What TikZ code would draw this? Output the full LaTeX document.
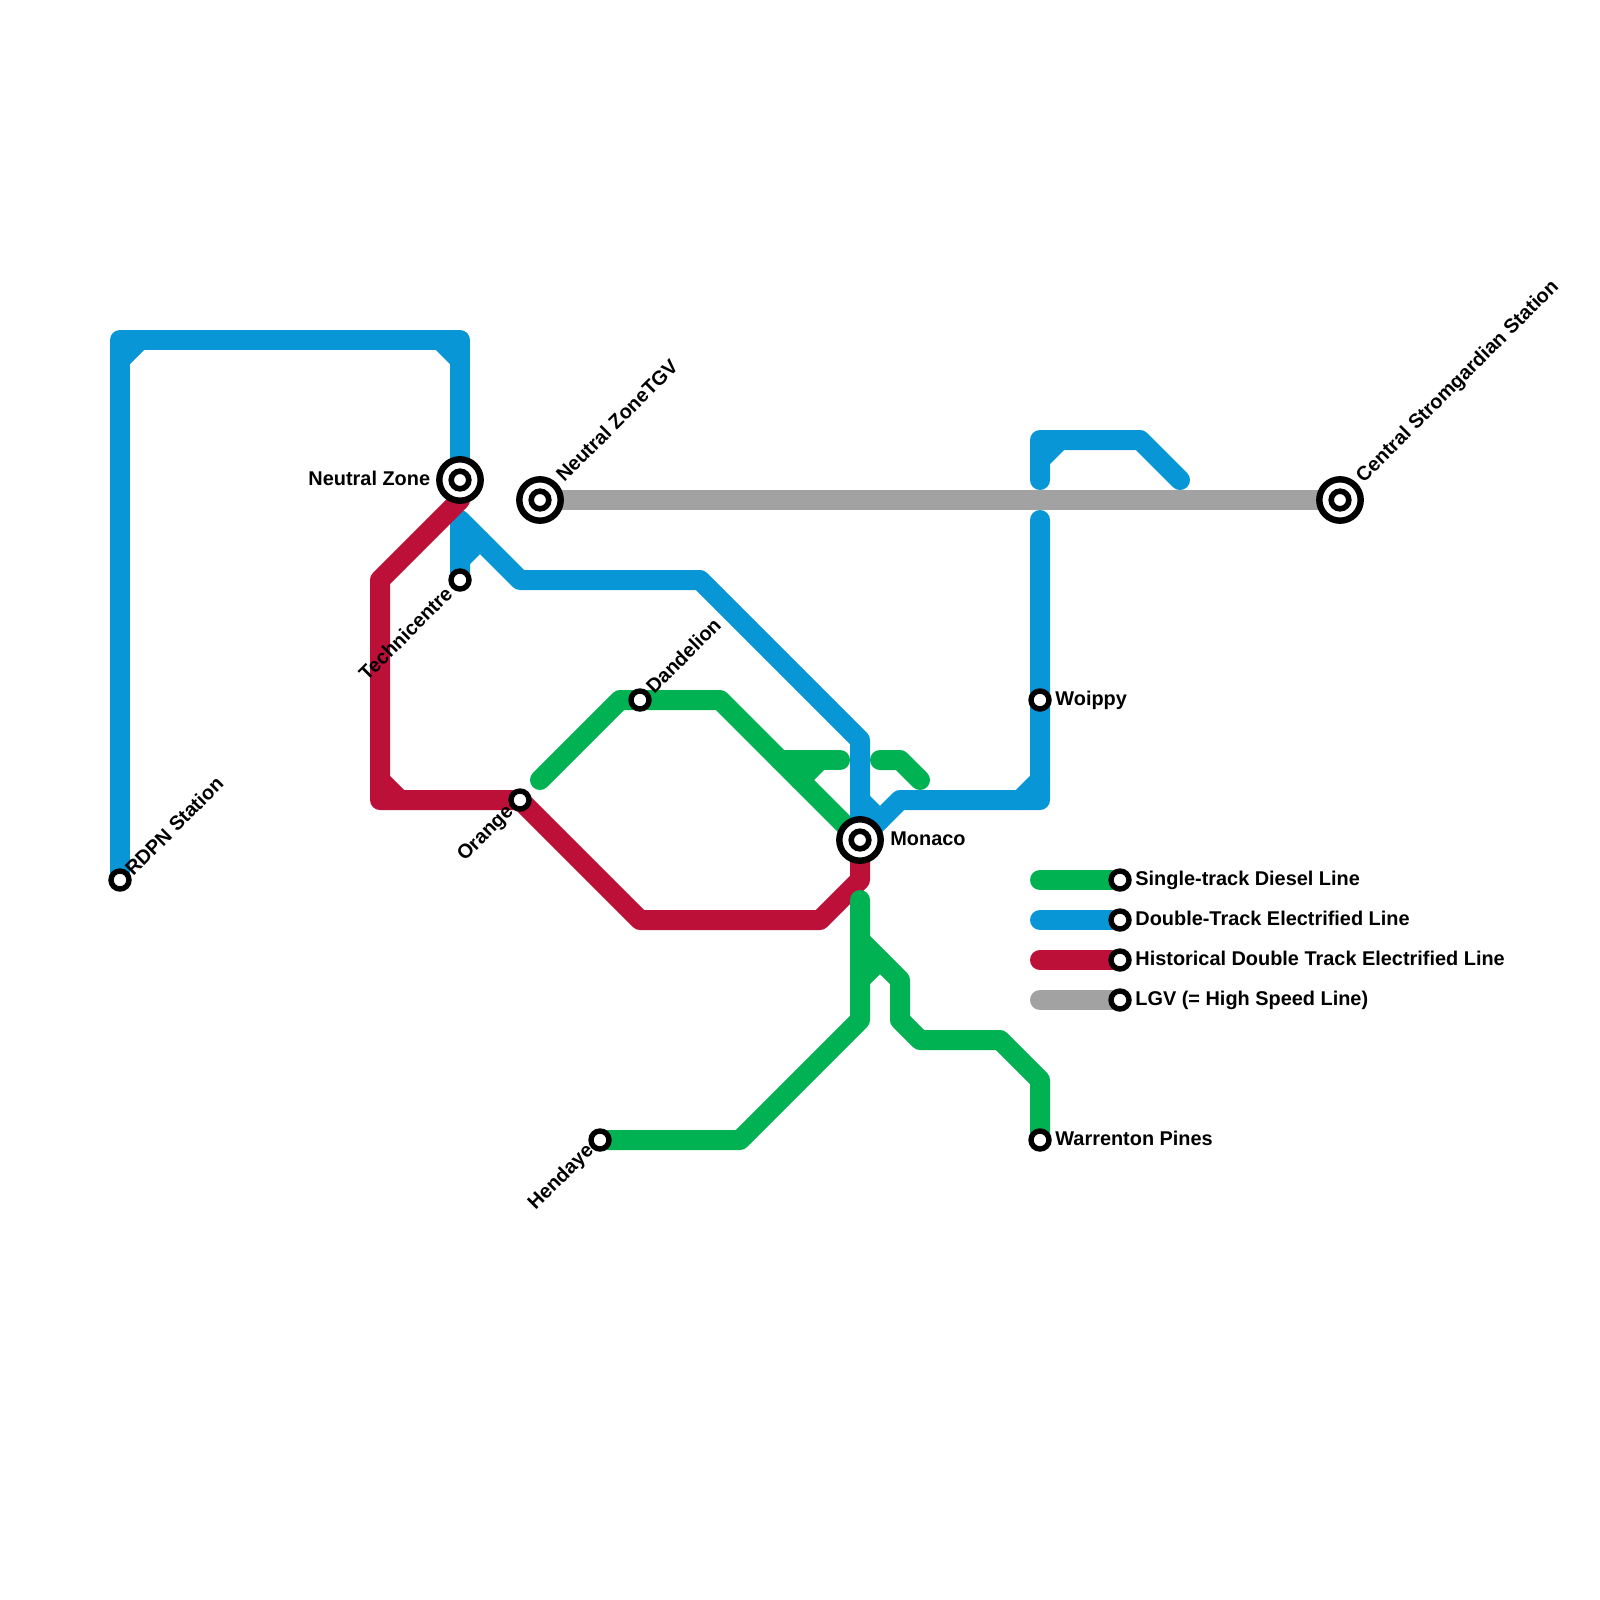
\documentclass[tikz,border=0pt]{standalone}
\usepackage{fontspec}
\setmainfont{Liberation Sans}
\definecolor{cgreen}{HTML}{00B251}
\definecolor{cblue}{HTML}{0896D7}
\definecolor{cred}{HTML}{BD1038}
\definecolor{cgray}{HTML}{A2A2A2}
\tikzset{
  railway/.style={line width=10pt,line cap=round,line join=round},
  smallstop/.style={circle,draw=black,fill=white,line width=2.7pt,minimum size=9pt,inner sep=0pt},
  bigstop/.style={circle,draw=black,fill=white,line width=3.2pt,minimum size=20.7pt,inner sep=0pt},
  bigcore/.style={circle,draw=black,fill=white,line width=2.8pt,minimum size=8.8pt,inner sep=0pt},
  lab/.style={font=\bfseries\fontsize{9.95pt}{12pt}\selectfont,text=black,inner sep=0pt},
  ne/.style={lab,rotate=45,anchor=west},
  sw/.style={lab,rotate=45,anchor=east},
  hr/.style={lab,anchor=base west},
  hl/.style={lab,anchor=base east},
}
\begin{document}
\begin{tikzpicture}[x=0.5pt,y=-0.5pt]
\useasboundingbox (0,0) rectangle (1600,1600);
% stations
\coordinate (rdpn) at (120,880);
\coordinate (nz) at (460,480);
\coordinate (tgv) at (540,500);
\coordinate (tech) at (460,580);
\coordinate (orange) at (520,800);
\coordinate (dand) at (640,700);
\coordinate (mon) at (860,840);
\coordinate (woip) at (1040,700);
\coordinate (hend) at (600,1140);
\coordinate (warr) at (1040,1140);
\coordinate (csta) at (1340,500);
\coordinate (lg) at (1120,880);
\coordinate (lb) at (1120,920);
\coordinate (lr) at (1120,960);
\coordinate (lw) at (1120,1000);
% upper green
\draw[railway,cgreen] (540,780) -- (620,700) -- (dand) -- (720,700) -- (mon);
\draw[railway,cgreen] (780,760) -- (840,760);
\draw[railway,cgreen] (800,780) -- (820,760);
\draw[railway,cgreen] (880,760) -- (900,760) -- (920,780);
% blue
\draw[railway,cblue] (rdpn) -- (120,340) -- (460,340) -- (nz);
\draw[railway,cblue] (120,360) -- (140,340);
\draw[railway,cblue] (440,340) -- (460,360);
\draw[railway,cblue] (tech) -- (460,520) -- (520,580) -- (700,580) -- (860,740) -- (mon);
\draw[railway,cblue] (460,560) -- (480,540);
\draw[railway,cblue] (860,800) -- (880,820);
\draw[railway,cblue] (mon) -- (900,800) -- (1040,800) -- (woip) -- (1040,520);
\draw[railway,cblue] (1020,800) -- (1040,780);
\draw[railway,cblue] (1040,480) -- (1040,440) -- (1140,440) -- (1180,480);
\draw[railway,cblue] (1040,460) -- (1060,440);
% red
\draw[railway,cred] (nz) ++(0,20) -- (380,580) -- (380,800) -- (orange) -- (640,920) -- (820,920) -- (860,880) -- (mon);
\draw[railway,cred] (380,780) -- (400,800);
% lower green
\draw[railway,cgreen] (860,900) -- (860,1020) -- (740,1140) -- (hend);
\draw[railway,cgreen] (860,940) -- (900,980) -- (900,1020) -- (920,1040) -- (1000,1040) -- (1040,1080) -- (warr);
\draw[railway,cgreen] (860,980) -- (880,960);
% gray
\draw[railway,cgray,line cap=butt] (tgv) -- (csta);
% legend lines
\coordinate (lgs) at (1040,880);
\coordinate (lbs) at (1040,920);
\coordinate (lrs) at (1040,960);
\coordinate (lws) at (1040,1000);
\draw[railway,cgreen] (lgs) -- (lg);
\draw[railway,cblue] (lbs) -- (lb);
\draw[railway,cred] (lrs) -- (lr);
\draw[railway,cgray] (lws) -- (lw);
% station markers
\foreach \p/\n in {rdpn/a,tech/b,orange/c,dand/d,woip/e,hend/f,warr/g,lg/h,lb/i,lr/j,lw/k}
  \node[smallstop] (s\n) at (\p) {};
\foreach \p/\n in {nz/a,tgv/b,mon/c,csta/d}{
  \node[bigstop] (o\n) at (\p) {};
  \node[bigcore] (i\n) at (\p) {};
}
% labels
\node[ne] (t1) at (128,872) {RDPN Station};
\node[ne] (t2) at (559,478) {Neutral ZoneTGV};
\node[sw] (t3) at (449,590) {Technicentre};
\node[sw] (t4) at (511,809) {Orange};
\node[sw] (t5) at (591,1148) {Hendaye};
\node[ne] (t6) at (649,690) {Dandelion};
\node[ne] (t7) at (1360,480) {Central Stromgardian Station};
\node[hl] (t8) at (430.5,485) {Neutral Zone};
\node[hr] (t9) at (890,845) {Monaco};
\node[hr] (t10) at (1055,705.5) {Woippy};
\node[hr] (t11) at (1055,1145) {Warrenton Pines};
\node[hr] (t12) at (1135,885.5) {Single-track Diesel Line};
\node[hr] (t13) at (1135,925) {Double-Track Electrified Line};
\node[hr] (t14) at (1135,965) {Historical Double Track Electrified Line};
\node[hr] (t15) at (1135,1005) {LGV (= High Speed Line)};
\end{tikzpicture}
\end{document}
